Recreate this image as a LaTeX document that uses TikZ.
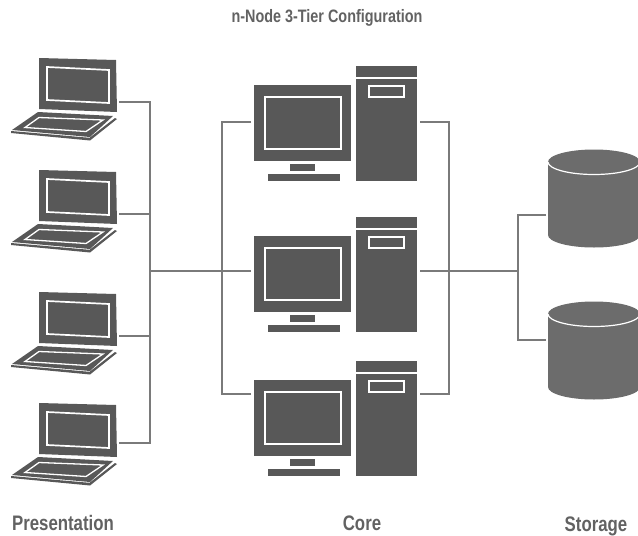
\documentclass[tikz,border=0pt]{standalone}
\usepackage{fontspec}
\setmainfont[FakeStretch=0.8]{Liberation Sans}
\definecolor{icon}{HTML}{585858}
\definecolor{drum}{HTML}{6C6C6C}
\definecolor{wire}{HTML}{7A7A7A}
\definecolor{txt}{HTML}{626262}
\tikzset{
  x=1pt,y=-1pt,
  wireline/.style={draw=wire,line width=2.4pt,line cap=butt,line join=miter},
  iconfill/.style={fill=icon,draw=none},
  inlay/.style={draw=white,line width=1.7pt,fill=icon},
  caption/.style={text=txt,font=\fontsize{21}{24}\selectfont\bfseries,inner sep=0pt,anchor=center},
  heading/.style={text=txt,font=\fontsize{18}{21}\selectfont\bfseries,inner sep=0pt,anchor=center},
  laptop/.pic={
    \path[iconfill] (39,58) -- (116,60) -- (117,112) -- (39,109) -- cycle;
    \path[inlay] (47,67) -- (109,70) -- (109,103) -- (47,100) -- cycle;
    \path[iconfill] (38,112) -- (113,116) -- (90,137) -- (12,130) -- cycle;
    \path[draw=white,line width=1.3pt,fill=icon] (39,117.5) -- (103,120) -- (86,131.5) -- (25,127.5) -- cycle;
    \path[iconfill] (11,133) -- (90,140.5) -- (117,119) -- (115,118) -- (89.5,137.8) -- (11,131) -- cycle;
  },
  computer/.pic={
    \path[iconfill] (254,85) rectangle (351,161);
    \path[inlay] (265,97) rectangle (341,149);
    \path[iconfill] (290,164) rectangle (315,171);
    \path[iconfill] (268,174) rectangle (340,181);
    \path[iconfill] (356,66) rectangle (417,77);
    \path[iconfill] (356,79) rectangle (417,181);
    \path[inlay] (369,86) rectangle (404,97);
  },
  database/.pic={
    \path[fill=drum] (548,162) -- (548,235) arc[start angle=180,end angle=0,x radius=46,y radius=12.5]
      -- (640,162) arc[start angle=0,end angle=-180,x radius=46,y radius=12.5] -- cycle;
    \path[draw=white,line width=1.2pt] (548,162) arc[start angle=180,end angle=0,x radius=46,y radius=12.5];
  },
}
\begin{document}
\begin{tikzpicture}
\useasboundingbox (0,0) rectangle (638,536);
\clip (0,0) rectangle (638,536);
\pic at (0,0) {laptop};
\pic at (0,112) {laptop};
\pic at (0,234) {laptop};
\pic at (0,345) {laptop};
\pic at (0,0) {computer};
\pic at (0,151) {computer};
\pic at (0,295) {computer};
\pic at (0,0) {database};
\pic at (0,152) {database};
% connector ends
\coordinate (lap1) at (119,102);
\coordinate (lap2) at (119,214);
\coordinate (lap3) at (119,336);
\coordinate (lap4) at (119,443);
\coordinate (busL) at (150,271);
\coordinate (monA) at (251,122);
\coordinate (monB) at (251,271);
\coordinate (monC) at (251,394);
\coordinate (busC) at (222,271);
\coordinate (towA) at (420,122);
\coordinate (towB) at (420,271);
\coordinate (towC) at (420,394);
\coordinate (busR) at (449,271);
\coordinate (busS) at (518,271);
\coordinate (stoA) at (546,215);
\coordinate (stoB) at (546,340);
\draw[wireline] (lap1) -| (busL);
\draw[wireline] (lap2) -| (busL);
\draw[wireline] (lap3) -| (busL);
\draw[wireline] (lap4) -| (busL);
\draw[wireline] (busL) -- (monB);
\draw[wireline] (monA) -| (busC);
\draw[wireline] (monC) -| (busC);
\draw[wireline] (towA) -| (busR);
\draw[wireline] (towC) -| (busR);
\draw[wireline] (towB) -- (busS);
\draw[wireline] (stoA) -| (busS);
\draw[wireline] (stoB) -| (busS);
\node[heading] (title) at (327,18) {n-Node 3-Tier Configuration};
\node[caption] (pres) at (63,523) {Presentation};
\node[caption] (core) at (362,523) {Core};
\node[caption] (stor) at (596,526) {Storage};
\end{tikzpicture}
\end{document}
